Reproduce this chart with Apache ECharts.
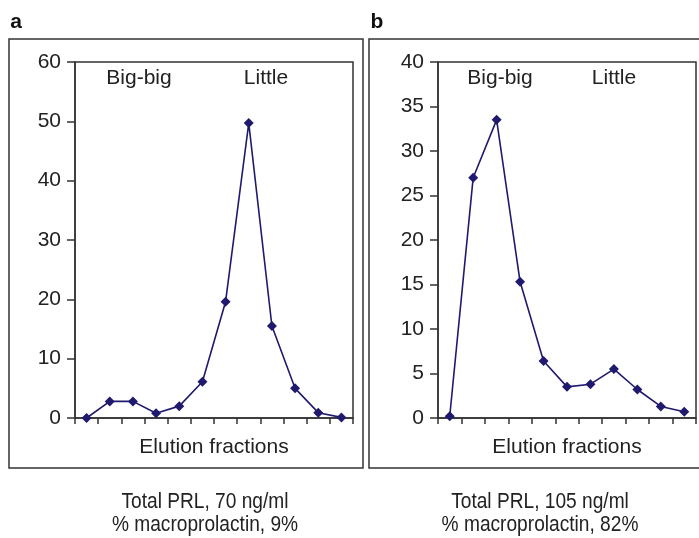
<!DOCTYPE html>
<html>
<head>
<meta charset="utf-8">
<script src="https://cdn.jsdelivr.net/npm/echarts@6/dist/echarts.min.js"></script>
<style>
html, body { margin: 0; padding: 0; background: #fff; }
#chart { width: 699px; height: 538px; }
</style>
</head>
<body>
<div id="chart"></div>
<script>
// panel a: 12 fractions, panel b: 11 fractions
const fractionsA = ['1', '2', '3', '4', '5', '6', '7', '8', '9', '10', '11', '12']
const valuesA = [0, 2.8, 2.8, 0.8, 2.0, 6.1, 19.6, 49.7, 15.5, 5.0, 0.9, 0.1]
const fractionsB = ['1', '2', '3', '4', '5', '6', '7', '8', '9', '10', '11']
const valuesB = [0.2, 27.0, 33.5, 15.3, 6.4, 3.5, 3.8, 5.5, 3.2, 1.3, 0.7]
const yMaxA = 60, yStepA = 10
const yMaxB = 40, yStepB = 5
const captionsA = ['Total PRL, 70 ng/ml', '% macroprolactin, 9%']
const captionsB = ['Total PRL, 105 ng/ml', '% macroprolactin, 82%']

const FONT = '"Liberation Sans", Arial, sans-serif'
const LINE = '#1f1a6e'
const AX = '#333'

let chart = echarts.init(document.getElementById('chart'))

function xAxisOf(idx, data) {
    return {
        type: 'category',
        gridIndex: idx,
        data: data,
        boundaryGap: true,
        name: 'Elution fractions',
        nameLocation: 'middle',
        nameGap: 19,
        nameTextStyle: { fontFamily: FONT, fontSize: 21, color: '#222' },
        axisLine: { lineStyle: { color: AX, width: 1.5 } },
        axisTick: { show: true, length: 6, lineStyle: { color: AX, width: 1.5 } },
        axisLabel: { show: false },
        splitLine: { show: false }
    }
}

function yAxisOf(idx, max, step) {
    return {
        type: 'value',
        gridIndex: idx,
        min: 0,
        max: max,
        interval: step,
        axisLine: { show: true, lineStyle: { color: AX, width: 1.5 } },
        axisTick: { show: true, length: 8, lineStyle: { color: AX, width: 1.5 } },
        axisLabel: { fontFamily: FONT, fontSize: 21, color: '#222', margin: 14 },
        splitLine: { show: false }
    }
}

function seriesOf(idx, data) {
    return {
        type: 'line',
        xAxisIndex: idx,
        yAxisIndex: idx,
        data: data,
        symbol: 'diamond',
        symbolSize: 10,
        showAllSymbol: true,
        lineStyle: { color: LINE, width: 1.6 },
        itemStyle: { color: LINE },
        animation: false
    }
}

function txt(x, y, text, size, opts, scaleX) {
    return {
        type: 'text',
        x: x,
        y: y,
        scaleX: scaleX || 1,
        style: Object.assign({
            text: text,
            fontFamily: FONT,
            fontSize: size,
            fill: '#222',
            textAlign: 'center',
            textVerticalAlign: 'middle'
        }, opts || {})
    }
}

function box(x, y, w, h) {
    return {
        type: 'rect',
        shape: { x: x, y: y, width: w, height: h },
        style: { fill: 'none', stroke: AX, lineWidth: 1.5 }
    }
}

let option = {
    animation: false,
    grid: [
        { left: 75, top: 62, width: 278, height: 356, show: true, borderColor: AX, borderWidth: 1.5, backgroundColor: 'transparent' },
        { left: 438, top: 62, width: 258, height: 356, show: true, borderColor: AX, borderWidth: 1.5, backgroundColor: 'transparent' }
    ],
    xAxis: [xAxisOf(0, fractionsA), xAxisOf(1, fractionsB)],
    yAxis: [yAxisOf(0, yMaxA, yStepA), yAxisOf(1, yMaxB, yStepB)],
    series: [seriesOf(0, valuesA), seriesOf(1, valuesB)],
    graphic: [
        box(9, 39, 354, 429),
        box(369, 39, 340, 429),
        txt(16, 22, 'a', 21, { fontWeight: 'bold', fill: '#111' }),
        txt(377, 22, 'b', 21, { fontWeight: 'bold', fill: '#111' }),
        txt(139, 78, 'Big-big', 21),
        txt(266, 78, 'Little', 21),
        txt(500, 78, 'Big-big', 21),
        txt(614, 78, 'Little', 21),
        txt(205, 502, captionsA[0], 22, null, 0.87),
        txt(205, 525, captionsA[1], 22, null, 0.87),
        txt(540, 502, captionsB[0], 22, null, 0.87),
        txt(540, 525, captionsB[1], 22, null, 0.87)
    ]
}
chart.setOption(option)
</script>
</body>
</html>
